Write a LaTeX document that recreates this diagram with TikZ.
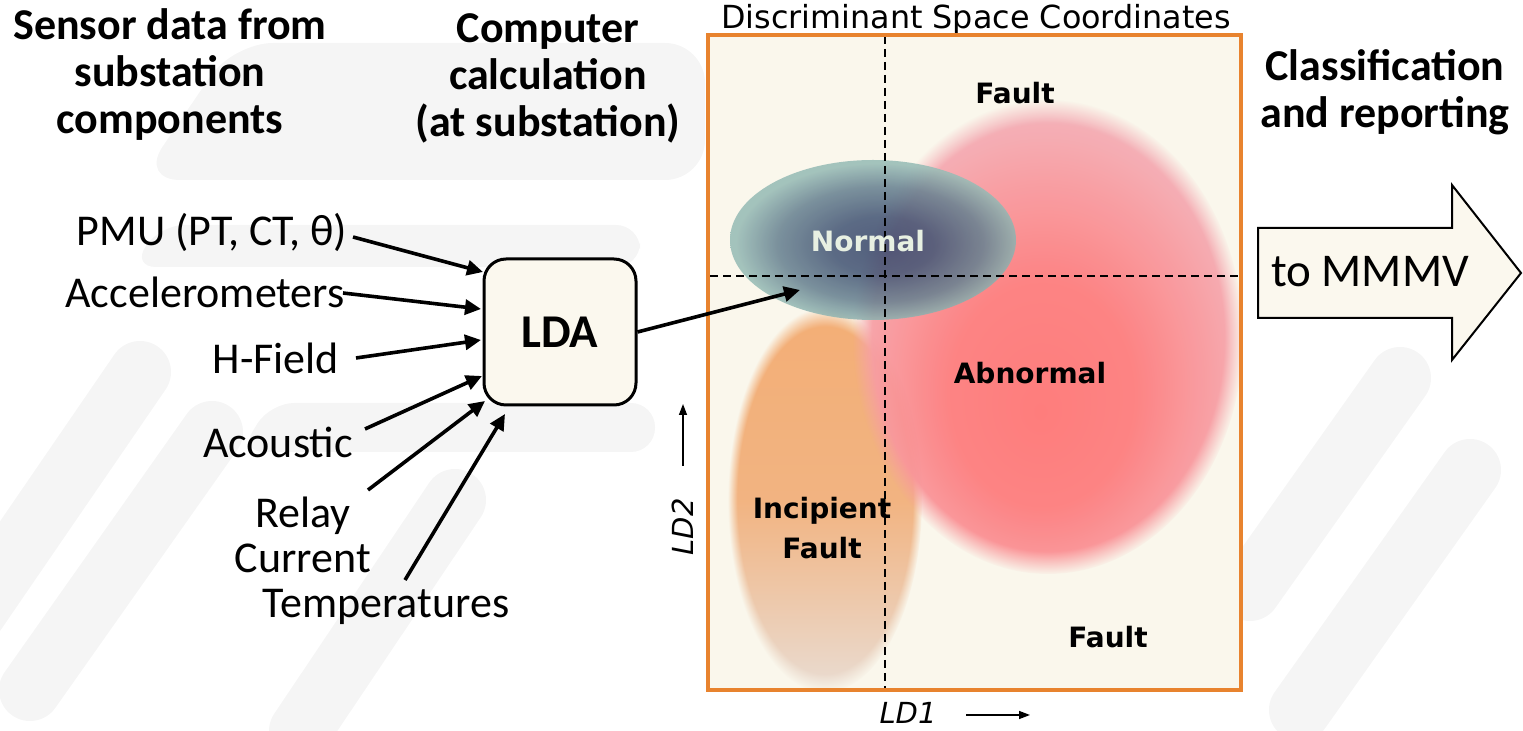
\documentclass[tikz,border=0pt]{standalone}
\usepackage{fontspec}
\setmainfont{Carlito}
\newfontfamily\dvs{DejaVu Sans}
\usetikzlibrary{arrows.meta,fadings}

\definecolor{cream}{HTML}{FBF8EE}
\definecolor{panel}{HTML}{FAF7EC}
\definecolor{frame}{HTML}{E8832E}
\definecolor{navy}{HTML}{3B4A6E}
\definecolor{teal}{HTML}{98BCB6}
\definecolor{redc}{HTML}{FF7777}
\definecolor{pinkc}{HTML}{F4AEB6}
\definecolor{orangec}{HTML}{F3AE76}
\definecolor{paleorange}{HTML}{E9DCD2}
\definecolor{normtxt}{HTML}{E8F0E2}
\definecolor{wmark}{HTML}{F5F5F5}

% colour profiles of the class regions
\pgfdeclareradialshading{normalsh}{\pgfpoint{2bp}{-2bp}}{%
  color(0bp)=(navy); color(9bp)=(navy!88!teal); color(18bp)=(navy!50!teal);
  color(25bp)=(teal); color(50bp)=(teal)}
\pgfdeclareradialshading{abnormalsh}{\pgfpoint{-1bp}{-8bp}}{%
  color(0bp)=(redc); color(12bp)=(redc!88!pinkc); color(27bp)=(pinkc);
  color(50bp)=(pinkc)}
% a narrow soft rim for the region outlines
\pgfdeclareradialshading{softrimsh}{\pgfpointorigin}{%
  color(0bp)=(white); color(22.5bp)=(white); color(25bp)=(black); color(50bp)=(black)}
\pgfdeclarefading{softrim}{\pgfuseshading{softrimsh}}

\tikzset{
  heading/.style={font=\bfseries\fontsize{22}{23.5}\selectfont, align=center},
  inlabel/.style={font=\fontsize{22}{22.5}\selectfont, align=center, inner sep=0pt},
  feed/.style={line width=1.8pt, -{Triangle[length=8pt,width=7.5pt]}},
  region/.style={font=\dvs\bfseries\fontsize{14}{20}\selectfont, align=center},
  axislabel/.style={font=\dvs\itshape\fontsize{14.5}{16}\selectfont, inner sep=1pt},
  axisarrow/.style={line width=0.7pt, -{Triangle[length=5.5pt,width=4pt]}},
  divider/.style={line width=1pt, dash pattern=on 4pt off 2.5pt},
  band/.style={draw=wmark, line width=31pt, line cap=round},
}

\begin{document}
\begin{tikzpicture}[x=0.5pt, y=-0.5pt]
\useasboundingbox (0,0) rectangle (1523,731);

% faint watermark bands in the background
\fill[wmark, rounded corners=20pt] (233,43) -- (705,43) -- (705,180) -- (140,180) -- cycle;
\fill[wmark, rounded corners=12pt] (160,225) -- (640,225) -- (640,267) -- (132,267) -- cycle;
\fill[wmark, rounded corners=12pt] (270,403) -- (655,403) -- (655,452) -- (240,452) -- cycle;
\draw[band] (140,372) -- (-30,620);
\draw[band] (212,432) -- (30,690);
\draw[band] (455,500) -- (300,731);
\draw[band] (1400,378) -- (1250,590);
\draw[band] (1470,470) -- (1300,710);

% column headings
\node[heading] (h1) at (170,75) {Sensor data from\\substation\\components};
\node[heading] (h2) at (548,78) {Computer\\calculation\\(at substation)};
\node[heading] (h3) at (1385,92) {Classification\\and reporting};

% discriminant space panel
\node[font=\dvs\fontsize{15.9}{18}\selectfont] (title) at (976,20) {Discriminant Space Coordinates};
\fill[panel] (708,35) rectangle (1241,690);

% class regions
\shade[top color=orangec, bottom color=paleorange, middle color=orangec!88!paleorange,
       path fading=circle with fuzzy edge 10 percent]
  (825,500) ellipse [x radius=97, y radius=192];
\shade[shading=abnormalsh, opacity=0.95, path fading=softrim]
  (1048,337) ellipse [x radius=195, y radius=237];
\shade[shading=normalsh, opacity=0.88]
  (873,240) ellipse [x radius=143, y radius=80];

% axes dividers
\coordinate (vtop) at (885,36);
\coordinate (vbot) at (885,690);
\coordinate (hl) at (710,276);
\coordinate (hr) at (1240,276);
\draw[divider] (vtop) -- (vbot);
\draw[divider] (hl) -- (hr);

\draw[frame, line width=1.6pt] (708,35) rectangle (1241,690);

\node[region] (fault1) at (1015,93) {Fault};
\node[region, text=normtxt] (normal) at (868,241) {Normal};
\node[region] (abn) at (1030,373) {Abnormal};
\node[region] (inc) at (822,528) {Incipient\\Fault};
\node[region] (fault2) at (1108,637) {Fault};

% axis labels
\node[axislabel] (ld1) at (908,713) {LD1};
\coordinate (ld1a) at (966,715);
\coordinate (ld1b) at (1030,715);
\draw[axisarrow] (ld1a) -- (ld1b);
\node[axislabel, rotate=90] (ld2) at (683,527) {LD2};
\coordinate (ld2a) at (683,466);
\coordinate (ld2b) at (683,404);
\draw[axisarrow] (ld2a) -- (ld2b);

% LDA block
\node[draw, line width=1.5pt, fill=cream, rounded corners=11pt,
      minimum width=76pt, minimum height=73pt,
      font=\bfseries\fontsize{23.5}{26}\selectfont] (lda) at (560,332) {LDA};
\coordinate (proj) at (800,290);
\draw[feed] (lda.east) -- (proj);

% sensor inputs
\node[inlabel] (pmu) at (212,232) {PMU (PT, CT, θ)};
\node[inlabel] (acc) at (205,292) {Accelerometers};
\node[inlabel] (hf) at (276,358) {H-Field};
\node[inlabel] (aco) at (278,442) {Acoustic};
\node[inlabel] (rel) at (303,535) {Relay\\Current};
\node[inlabel] (tmp) at (386,607) {Temperatures};

\coordinate (pmuE) at (353,237);
\coordinate (accE) at (343,293);
\coordinate (hfE) at (356,358);
\coordinate (acoE) at (365,429);
\coordinate (relE) at (368,490);
\coordinate (tmpE) at (405,580);
\coordinate (pmuT) at (483,272);
\coordinate (accT) at (481,309);
\coordinate (hfT) at (481,340);
\coordinate (acoT) at (482,376);
\coordinate (relT) at (485,401);
\coordinate (tmpT) at (505,414);

\draw[feed] (pmuE) -- (pmuT);
\draw[feed] (accE) -- (accT);
\draw[feed] (hfE) -- (hfT);
\draw[feed] (acoE) -- (acoT);
\draw[feed] (relE) -- (relT);
\draw[feed] (tmpE) -- (tmpT);

% output arrow
\draw[fill=cream, line width=1pt, line join=miter]
  (1258,228) -- (1452,228) -- (1452,185) -- (1521,273) -- (1452,360) -- (1452,318) -- (1258,318) -- cycle;
\node[font=\fontsize{23.5}{26}\selectfont] (out) at (1370,272) {to MMMV};
\end{tikzpicture}
\end{document}
